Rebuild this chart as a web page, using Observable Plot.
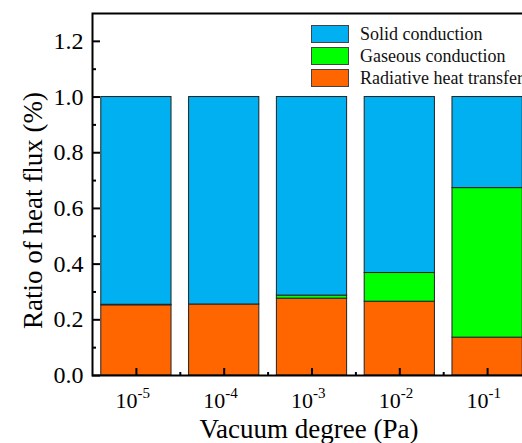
<!DOCTYPE html>
<html>
<head>
<meta charset="utf-8">
<script src="https://cdn.jsdelivr.net/npm/d3@7"></script>
<script src="https://cdn.jsdelivr.net/npm/@observablehq/plot@0.6"></script>
<style>
  html, body { margin: 0; padding: 0; background: #fff; overflow: hidden; }
  #chart { position: relative; width: 522px; height: 443px; overflow: hidden;
           font-family: "Liberation Serif", "Times New Roman", serif; }
  #legend { position: absolute; left: 311px; top: 23px; }
  #legend .row { display: flex; align-items: center; height: 22px; }
  #legend .sw { width: 38px; height: 18px; box-sizing: border-box; border: 1px solid #444; }
  #legend .lab { margin-left: 11px; font-size: 18px; color: #111; white-space: nowrap; }
</style>
</head>
<body>
<div id="chart"><div id="legend"></div></div>
<script>
// Vacuum degree exponents (Pa = 10^exp)
const exponents = ["-5", "-4", "-3", "-2", "-1"];

// Share of total heat flux per mechanism
const radiative = [0.252, 0.255, 0.276, 0.265, 0.136];
const gaseous   = [0.002, 0.000, 0.011, 0.103, 0.537];
const solid     = [0.746, 0.745, 0.713, 0.632, 0.327];

// Stacking order, bottom to top
const seriesNames = ["Radiative heat transfer", "Gaseous conduction", "Solid conduction"];
const seriesColors = ["#FF6600", "#00FF00", "#00B0F0"];
const legendOrder = ["Solid conduction", "Gaseous conduction", "Radiative heat transfer"];

const yTicks = [0, 0.2, 0.4, 0.6, 0.8, 1.0, 1.2];
const yMinorTicks = [0.1, 0.3, 0.5, 0.7, 0.9, 1.1];
const xTicks = [1, 2, 3, 4, 5];
const xMinorTicks = [1.5, 2.5, 3.5, 4.5];

// Build stacked rectangles
const valuesBySeries = [radiative, gaseous, solid];
const rows = [];
exponents.forEach((e, i) => {
  let base = 0;
  seriesNames.forEach((s, k) => {
    const v = valuesBySeries[k][i];
    rows.push({pos: i + 1, series: s, y1: base, y2: base + v});
    base += v;
  });
});

const halfBar = 0.4;
const noLabel = () => "";

const plot = Plot.plot({
  width: 540,
  height: 443,
  marginLeft: 92,
  marginRight: 9,
  marginTop: 13,
  marginBottom: 68,
  style: {fontFamily: "'Liberation Serif', 'Times New Roman', serif", maxWidth: "none", color: "#000", background: "#fff"},
  x: {domain: [0.5, 5.5]},
  y: {domain: [0, 1.3]},
  color: {domain: seriesNames, range: seriesColors},
  marks: [
    Plot.rect(rows, {
      x1: d => d.pos - halfBar,
      x2: d => d.pos + halfBar,
      y1: "y1",
      y2: "y2",
      fill: "series",
      stroke: "#222",
      strokeWidth: 1
    }),
    Plot.frame({stroke: "#000", strokeWidth: 2}),
    // y axis: inward major and minor ticks, labels
    Plot.axisY({ticks: yTicks, tickSize: -8, strokeWidth: 2, tickFormat: noLabel, label: null}),
    Plot.axisY({ticks: yMinorTicks, tickSize: -4, strokeWidth: 2, tickFormat: noLabel, label: null}),
    Plot.axisY({ticks: yTicks, tickSize: 0, tickPadding: 9, tickFormat: d => d.toFixed(1), fontSize: 24, label: null}),
    // x axis: inward ticks at bars and between bars
    Plot.axisX({ticks: xTicks, tickSize: -7, strokeWidth: 2, tickFormat: noLabel, label: null}),
    Plot.axisX({ticks: xMinorTicks, tickSize: -3, strokeWidth: 2, tickFormat: noLabel, label: null}),
    // tick labels 10^exp
    Plot.text(exponents, {x: (d, i) => i + 1, text: () => "10", frameAnchor: "bottom",
      textAnchor: "end", lineAnchor: "middle", dx: 1, dy: 25, fontSize: 22, fill: "#000"}),
    Plot.text(exponents, {x: (d, i) => i + 1, text: d => d, frameAnchor: "bottom",
      textAnchor: "start", lineAnchor: "middle", dx: 1, dy: 18, fontSize: 15, fill: "#000"}),
    // axis titles
    Plot.text(["Vacuum degree (Pa)"], {frameAnchor: "bottom", textAnchor: "middle", lineAnchor: "middle",
      dx: -3, dy: 54, fontSize: 27, fill: "#000"}),
    Plot.text(["Ratio of heat flux (%)"], {frameAnchor: "left", textAnchor: "middle", lineAnchor: "middle",
      rotate: -90, dx: -59, dy: 16, fontSize: 27, fill: "#000"})
  ]
});

document.getElementById("chart").prepend(plot);

// Legend inside the plot area
const legend = document.getElementById("legend");
legendOrder.forEach(name => {
  const row = document.createElement("div");
  row.className = "row";
  const sw = document.createElement("div");
  sw.className = "sw";
  sw.style.background = seriesColors[seriesNames.indexOf(name)];
  const lab = document.createElement("span");
  lab.className = "lab";
  lab.textContent = name;
  row.append(sw, lab);
  legend.append(row);
});
</script>
</body>
</html>
